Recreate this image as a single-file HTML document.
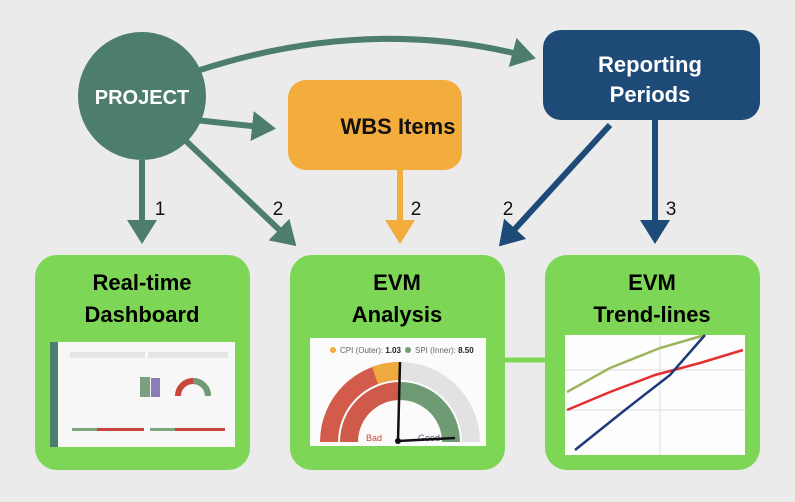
<!DOCTYPE html>
<html><head><meta charset="utf-8"><style>
body{margin:0;width:795px;height:497px;background:#ebebeb;overflow:hidden;font-family:"Liberation Sans",sans-serif}
</style></head><body>
<svg width="795" height="497" viewBox="0 0 795 497" xmlns="http://www.w3.org/2000/svg" font-family="Liberation Sans, sans-serif">
<defs>
<marker id="ag" markerWidth="6" markerHeight="6" refX="3" refY="3" orient="auto" markerUnits="strokeWidth"><path d="M0,0.5 L4,3 L0,5.5 Z" fill="#4c7d6e"/></marker>
<marker id="ao" markerWidth="6" markerHeight="6" refX="3" refY="3" orient="auto" markerUnits="strokeWidth"><path d="M0,0.5 L4,3 L0,5.5 Z" fill="#f2ad3d"/></marker>
<marker id="ab" markerWidth="6" markerHeight="6" refX="3" refY="3" orient="auto" markerUnits="strokeWidth"><path d="M0,0.5 L4,3 L0,5.5 Z" fill="#1e4a78"/></marker>
</defs>
<line x1="500" y1="360" x2="550" y2="360" stroke="#7dd655" stroke-width="5"/>
<path d="M200,70 Q370,15 530,57" fill="none" stroke="#4c7d6e" stroke-width="6" marker-end="url(#ag)"/>
<line x1="195" y1="120" x2="270" y2="128" stroke="#4c7d6e" stroke-width="6" marker-end="url(#ag)"/>
<line x1="142" y1="160" x2="142" y2="238" stroke="#4c7d6e" stroke-width="6" marker-end="url(#ag)"/>
<line x1="185" y1="140" x2="292" y2="242" stroke="#4c7d6e" stroke-width="6" marker-end="url(#ag)"/>
<line x1="400" y1="168" x2="400" y2="238" stroke="#f2ad3d" stroke-width="6" marker-end="url(#ao)"/>
<line x1="610" y1="125" x2="503" y2="242" stroke="#1e4a78" stroke-width="6" marker-end="url(#ab)"/>
<line x1="655" y1="118" x2="655" y2="238" stroke="#1e4a78" stroke-width="6" marker-end="url(#ab)"/>
<g font-size="19" fill="#111" text-anchor="middle">
<text x="160" y="215">1</text><text x="278" y="215">2</text><text x="416" y="215">2</text><text x="508" y="215">2</text><text x="671" y="215">3</text>
</g>
<circle cx="142" cy="96" r="64" fill="#4c7d6e"/>
<text x="142" y="104" text-anchor="middle" fill="#fff" font-size="20" font-weight="bold">PROJECT</text>
<rect x="288" y="80" width="174" height="90" rx="18" fill="#f2ad3d"/>
<text x="398" y="134" text-anchor="middle" fill="#111" font-size="22" font-weight="bold">WBS Items</text>
<rect x="543" y="30" width="217" height="90" rx="18" fill="#1e4a78"/>
<text x="650" y="72" text-anchor="middle" fill="#fff" font-size="22" font-weight="bold">Reporting</text>
<text x="650" y="102" text-anchor="middle" fill="#fff" font-size="22" font-weight="bold">Periods</text>
<rect x="35" y="255" width="215" height="215" rx="22" fill="#7dd655"/>
<rect x="290" y="255" width="215" height="215" rx="22" fill="#7dd655"/>
<rect x="545" y="255" width="215" height="215" rx="22" fill="#7dd655"/>
<g text-anchor="middle" fill="#000" font-size="22" font-weight="bold">
<text x="142" y="290">Real-time</text><text x="142" y="322">Dashboard</text>
<text x="397" y="290">EVM</text><text x="397" y="322">Analysis</text>
<text x="652" y="290">EVM</text><text x="652" y="322">Trend-lines</text>
</g>
<rect x="50" y="342" width="185" height="105" fill="#f7f7f7"/>
<rect x="50" y="342" width="8" height="105" fill="#4c7d6e"/>
<rect x="70" y="352" width="75" height="6" fill="#e3e6e3"/><rect x="148" y="352" width="80" height="6" fill="#e3e6e3"/>
<rect x="140" y="377" width="10" height="20" fill="#7ca07f"/><rect x="151" y="378" width="9" height="19" fill="#8b7db8"/>
<path d="M178,396 A15,15 0 0 1 208,396" fill="none" stroke="#c8473a" stroke-width="6"/>
<path d="M193,381 A15,15 0 0 1 208,396" fill="none" stroke="#6f9b74" stroke-width="6"/>
<rect x="72" y="428" width="72" height="3" fill="#c8473a"/><rect x="150" y="428" width="75" height="3" fill="#c8473a"/>
<rect x="72" y="428" width="25" height="3" fill="#7aa77c"/><rect x="150" y="428" width="25" height="3" fill="#7aa77c"/>
<rect x="310" y="338" width="176" height="108" fill="#fbfbfb"/>
<circle cx="333" cy="350" r="3" fill="#f2ad3d"/><text x="340" y="353" font-size="8" fill="#666">CPI (Outer): <tspan font-weight="bold" fill="#222">1.03</tspan></text>
<circle cx="408" cy="350" r="3" fill="#6f9b74"/><text x="415" y="353" font-size="8" fill="#666">SPI (Inner): <tspan font-weight="bold" fill="#222">8.50</tspan></text>
<path d="M320,442 A80,80 0 0 1 400,362 L400,380 A62,62 0 0 0 338,442 Z" fill="#d25b4b"/>
<path d="M400,362 A80,80 0 0 1 480,442 L462,442 A62,62 0 0 0 400,380 Z" fill="#e2e2e2"/>
<path d="M372,367 A80,80 0 0 1 400,362 L400,380 A62,62 0 0 0 378,384 Z" fill="#f0a93f"/>
<path d="M340,442 A60,60 0 0 1 400,382 L400,400 A42,42 0 0 0 358,442 Z" fill="#cf5a4b"/>
<path d="M400,382 A60,60 0 0 1 460,442 L442,442 A42,42 0 0 0 400,400 Z" fill="#6f9b74"/>
<text x="366" y="441" font-size="9" fill="#c8473a">Bad</text><text x="418" y="441" font-size="9" fill="#557">Good</text>
<line x1="398" y1="441" x2="400" y2="362" stroke="#111" stroke-width="2.5"/>
<line x1="398" y1="441" x2="455" y2="438" stroke="#111" stroke-width="2.5"/>
<circle cx="398" cy="441" r="3" fill="#111"/>
<rect x="565" y="335" width="180" height="120" fill="#fdfdfd"/>
<line x1="565" y1="370" x2="745" y2="370" stroke="#ddd"/><line x1="565" y1="410" x2="745" y2="410" stroke="#ddd"/>
<line x1="660" y1="335" x2="660" y2="455" stroke="#ddd"/>
<polyline points="567,392 610,368 660,348 705,335" fill="none" stroke="#9ab55c" stroke-width="2.5"/>
<polyline points="567,410 610,392 655,375 700,363 743,350" fill="none" stroke="#e23030" stroke-width="2.5"/>
<polyline points="575,450 625,410 670,375 705,335" fill="none" stroke="#1e3a78" stroke-width="2.5"/>
</svg>
</body></html>
